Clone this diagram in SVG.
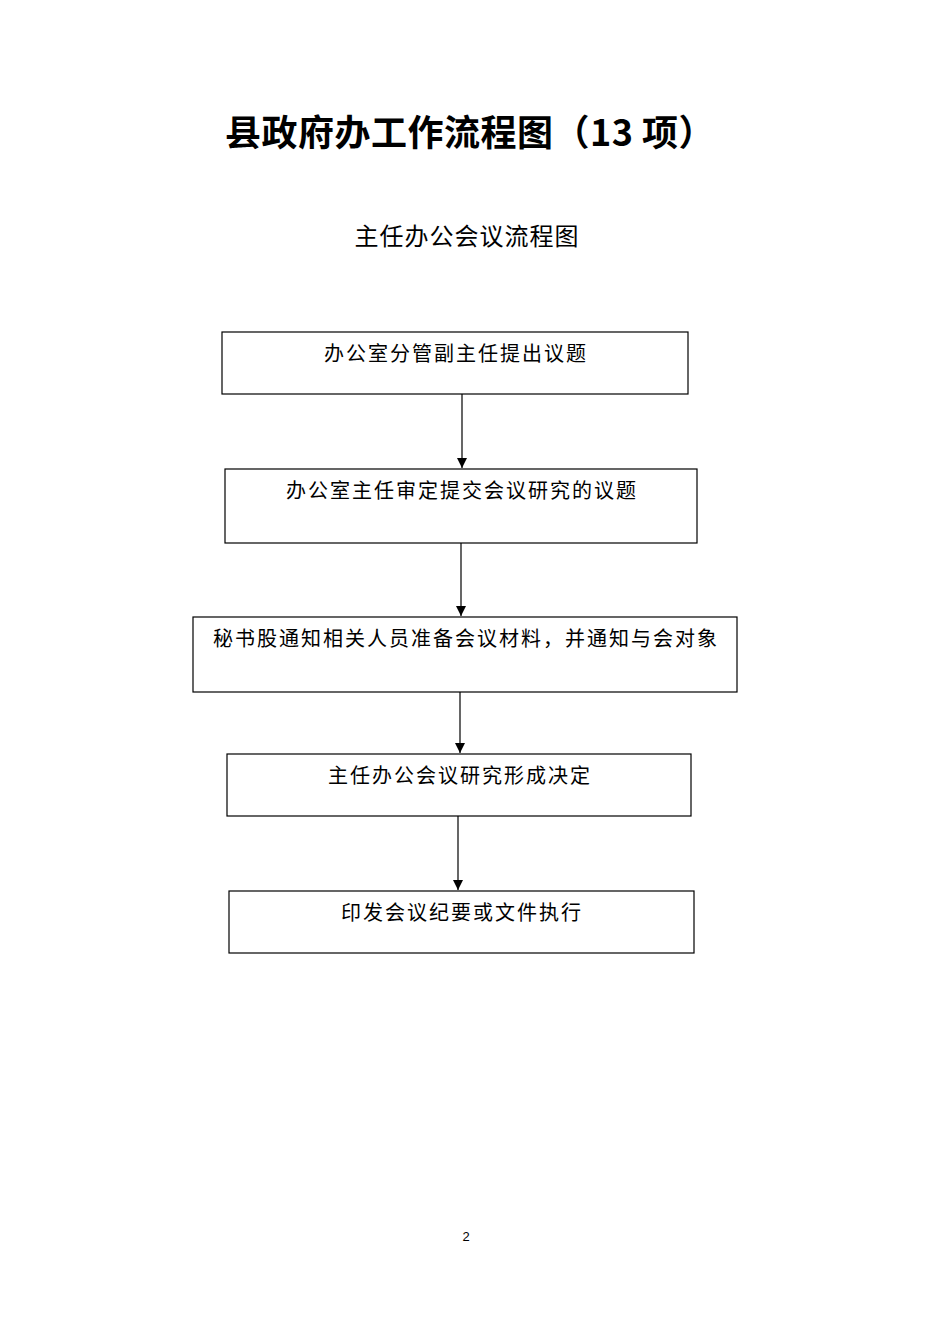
<svg xmlns="http://www.w3.org/2000/svg" width="950" height="1344" viewBox="0 0 950 1344">
<style>
.box{fill:#fff;stroke:#000;stroke-width:1.2}
.t{font-family:"Noto Sans CJK SC","Noto Sans",sans-serif;font-size:20px;fill:#000;text-anchor:middle;letter-spacing:2px}
.c{stroke:#000;stroke-width:1.2;fill:none}
</style>
<defs>
<marker id="ah" markerWidth="11" markerHeight="11" refX="10" refY="5" orient="auto" markerUnits="userSpaceOnUse">
<path d="M0,0 L10,5 L0,10 z" fill="#000"/>
</marker>
</defs>
<rect width="950" height="1344" fill="#fff"/>
<text x="470" y="146" font-family="'Noto Sans CJK SC','Noto Sans',sans-serif" font-size="36" font-weight="bold" text-anchor="middle" letter-spacing="0.5">县政府办工作流程图（13 项）</text>
<text x="467" y="245" font-family="'Noto Sans CJK SC','Noto Sans',sans-serif" font-size="24" text-anchor="middle" letter-spacing="1">主任办公会议流程图</text>
<g id="connectors">
<line class="c" x1="462" y1="394" x2="462" y2="468" marker-end="url(#ah)"/>
<line class="c" x1="461" y1="543" x2="461" y2="616" marker-end="url(#ah)"/>
<line class="c" x1="460" y1="692" x2="460" y2="753" marker-end="url(#ah)"/>
<line class="c" x1="458" y1="816" x2="458" y2="890" marker-end="url(#ah)"/>
</g>
<g id="n1"><rect class="box" x="222" y="332" width="466" height="62"/><text class="t" x="456" y="361">办公室分管副主任提出议题</text></g>
<g id="n2"><rect class="box" x="225" y="469" width="472" height="74"/><text class="t" x="462" y="498">办公室主任审定提交会议研究的议题</text></g>
<g id="n3"><rect class="box" x="193" y="617" width="544" height="75"/><text class="t" x="466" y="646">秘书股通知相关人员准备会议材料，并通知与会对象</text></g>
<g id="n4"><rect class="box" x="227" y="754" width="464" height="62"/><text class="t" x="460" y="783">主任办公会议研究形成决定</text></g>
<g id="n5"><rect class="box" x="229" y="891" width="465" height="62"/><text class="t" x="462" y="920">印发会议纪要或文件执行</text></g>
<text x="466" y="1241" font-family="'Liberation Sans',sans-serif" font-size="13" text-anchor="middle">2</text>
</svg>
